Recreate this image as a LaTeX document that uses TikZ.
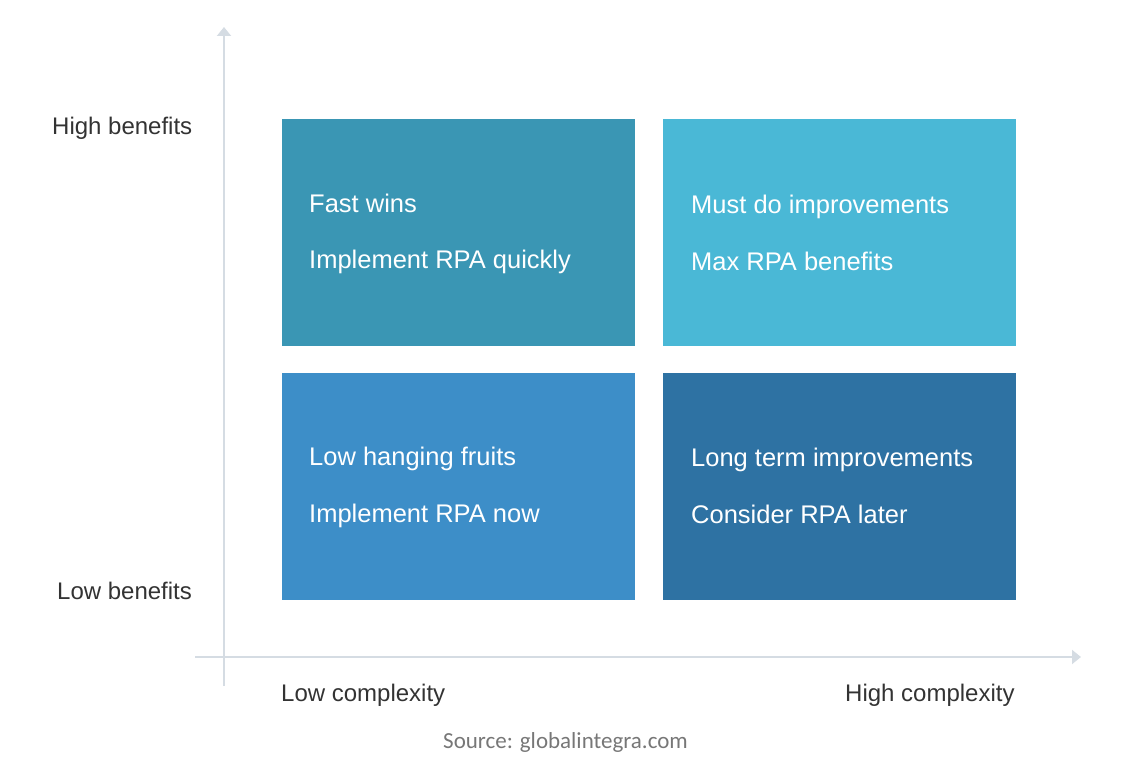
\documentclass[tikz,border=0pt]{standalone}
\usepackage{fontspec}
\setmainfont{Liberation Sans}
\newfontfamily\srcfont{Carlito}
\usetikzlibrary{arrows.meta}
\definecolor{cTL}{HTML}{3A96B4}
\definecolor{cTR}{HTML}{4AB8D6}
\definecolor{cBL}{HTML}{3D8EC8}
\definecolor{cBR}{HTML}{2E72A3}
\definecolor{axisc}{HTML}{D5DCE3}
\definecolor{labc}{HTML}{333333}
\definecolor{srcc}{HTML}{777777}
\tikzset{
  quad/.style={draw=none, inner sep=0pt, outer sep=0pt, anchor=north west, minimum width=353pt, minimum height=227pt},
  qtext/.style={anchor=base west, inner sep=0pt, text=white, font=\fontsize{25.5}{30}\selectfont},
  axlab/.style={anchor=base west, inner sep=0pt, text=labc, font=\fontsize{24}{28}\selectfont},
  axisline/.style={draw=axisc, line width=2pt, -{Triangle[length=9pt, width=14pt]}},
}
\begin{document}
\begin{tikzpicture}[x=1pt, y=-1pt]
\useasboundingbox (0,0) rectangle (1128,784);
% quadrants
\node[quad, fill=cTL] (tl) at (282,119) {};
\node[quad, fill=cTR] (tr) at (663,119) {};
\node[quad, fill=cBL] (bl) at (282,373) {};
\node[quad, fill=cBR] (br) at (663,373) {};
% quadrant texts
\node[qtext] (tl1) at (309,212) {Fast wins};
\node[qtext] (tl2) at (309,268) {Implement RPA quickly};
\node[qtext] (tr1) at (691,213) {Must do improvements};
\node[qtext] (tr2) at (691,270) {Max RPA benefits};
\node[qtext] (bl1) at (309,465) {Low hanging fruits};
\node[qtext] (bl2) at (309,522) {Implement RPA now};
\node[qtext] (br1) at (691,466) {Long term improvements};
\node[qtext] (br2) at (691,523) {Consider RPA later};
% axes
\coordinate (ybot) at (224,686);
\coordinate (ytop) at (224,27);
\coordinate (xleft) at (195,657);
\coordinate (xright) at (1081,657);
\draw[axisline] (ybot) -- (ytop);
\draw[axisline] (xleft) -- (xright);
% axis labels
\node[axlab] (hb) at (52,135) {High benefits};
\node[axlab] (lb) at (57,599) {Low benefits};
\node[axlab] (lc) at (281,701) {Low complexity};
\node[axlab] (hc) at (845,701) {High complexity};
\node[anchor=base west, inner sep=0pt, text=srcc, font=\srcfont\fontsize{23}{27}\selectfont] (src) at (443,748) {Source: globalintegra.com};
\end{tikzpicture}
\end{document}
